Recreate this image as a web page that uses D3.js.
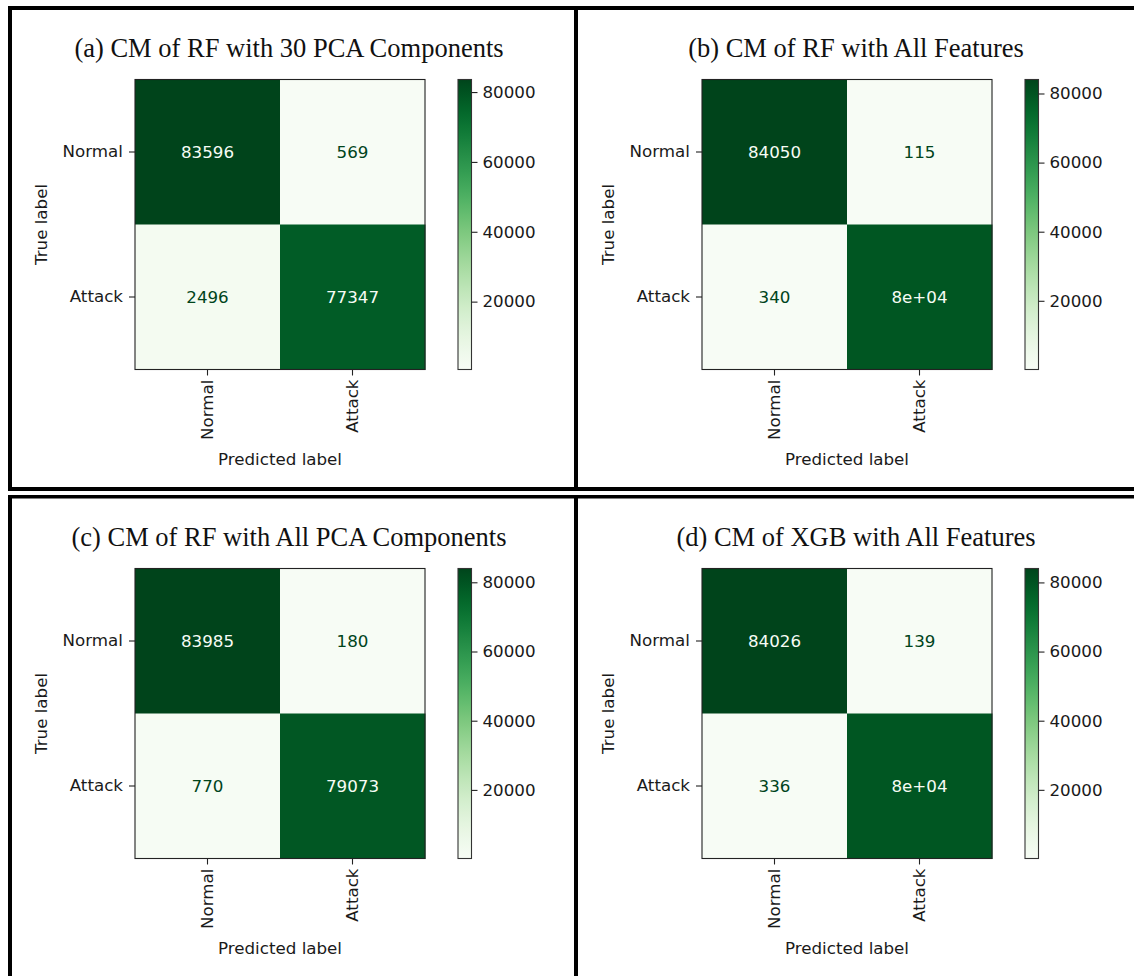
<!DOCTYPE html>
<html>
<head>
<meta charset="utf-8">
<script src="https://cdn.jsdelivr.net/npm/d3@7"></script>
<style>
  html, body { margin: 0; padding: 0; background: #fff; }
  svg { display: block; }
</style>
</head>
<body>
<svg id="chart" width="1134" height="976"></svg>
<script>
// ---- Data ----
const panelTitles = [
  "(a) CM of RF with 30 PCA Components",
  "(b) CM of RF with All Features",
  "(c) CM of RF with All PCA Components",
  "(d) CM of XGB with All Features"
];
const classLabels = ["Normal", "Attack"];
const cmA = [[83596, 569], [2496, 77347]];
const cmB = [[84050, 115], [340, 79503]];
const cmC = [[83985, 180], [770, 79073]];
const cmD = [[84026, 139], [336, 79507]];
const colorbarTicks = [20000, 40000, 60000, 80000];
const xAxisTitle = "Predicted label";
const yAxisTitle = "True label";

const matrices = [cmA, cmB, cmC, cmD];

// ---- Layout ----
const svg = d3.select("#chart");
const W = 1134, H = 976;
const sansFont = "'DejaVu Sans', sans-serif";
const serifFont = "'Liberation Serif', 'Times New Roman', serif";
const fs = 16.7;
const textColor = "#1a1a1a";

const panelOffsets = [[0, 0], [567, 0], [0, 489], [567, 489]];
const mat = { x0: 135, x1: 425, y0: 79.5, y1: 369.5 };
const cbar = { x0: 458, x1: 471.5 };

// python-like ".2g" formatting, sklearn's choice between ".2g" and "d"
function pyG2(v) {
  let s = v.toPrecision(2);
  if (s.includes("e")) {
    let [m, e] = s.split("e");
    if (m.includes(".")) m = m.replace(/\.?0+$/, "");
    const sign = e[0] === "-" ? "-" : "+";
    const digits = e.replace(/^[+-]/, "").padStart(2, "0");
    return m + "e" + sign + digits;
  }
  if (s.includes(".")) s = s.replace(/\.?0+$/, "");
  return s;
}
function cmLabel(v) {
  const g = pyG2(v);
  const d = String(v);
  return d.length < g.length ? d : g;
}

// gradient for colorbar
const defs = svg.append("defs");
const grad = defs.append("linearGradient")
  .attr("id", "greensGrad")
  .attr("x1", 0).attr("y1", 1).attr("x2", 0).attr("y2", 0);
d3.range(0, 1.0001, 0.02).forEach(t => {
  grad.append("stop").attr("offset", t).attr("stop-color", d3.interpolateGreens(t));
});

matrices.forEach((cm, pi) => {
  const [ox, oy] = panelOffsets[pi];
  const g = svg.append("g").attr("transform", `translate(${ox},${oy})`);
  const flat = cm.flat();
  const vmin = d3.min(flat), vmax = d3.max(flat);
  const color = d3.scaleSequential(d3.interpolateGreens).domain([vmin, vmax]);
  const thresh = (vmin + vmax) / 2;

  const x = d3.scaleBand().domain(classLabels).range([mat.x0, mat.x1]);
  const y = d3.scaleBand().domain(classLabels).range([mat.y0, mat.y1]);

  // title
  g.append("text")
    .attr("x", 289).attr("y", 57)
    .attr("text-anchor", "middle")
    .attr("font-family", serifFont)
    .attr("font-size", 26.5)
    .attr("fill", "#111")
    .text(panelTitles[pi]);

  // cells
  const cells = [];
  cm.forEach((row, i) => row.forEach((v, j) => cells.push({ i, j, v })));
  g.selectAll("rect.cell").data(cells).enter().append("rect")
    .attr("class", "cell")
    .attr("x", d => x(classLabels[d.j]))
    .attr("y", d => y(classLabels[d.i]))
    .attr("width", x.bandwidth() + 0.5)
    .attr("height", y.bandwidth() + 0.5)
    .attr("fill", d => color(d.v));

  g.selectAll("text.val").data(cells).enter().append("text")
    .attr("class", "val")
    .attr("x", d => x(classLabels[d.j]) + x.bandwidth() / 2)
    .attr("y", d => y(classLabels[d.i]) + y.bandwidth() / 2)
    .attr("text-anchor", "middle")
    .attr("dominant-baseline", "central")
    .attr("font-family", sansFont)
    .attr("font-size", fs)
    .attr("fill", d => d.v < thresh ? d3.interpolateGreens(1) : d3.interpolateGreens(0))
    .text(d => cmLabel(d.v));

  // frame
  g.append("rect")
    .attr("x", mat.x0).attr("y", mat.y0)
    .attr("width", mat.x1 - mat.x0).attr("height", mat.y1 - mat.y0)
    .attr("fill", "none").attr("stroke", "#222").attr("stroke-width", 1.1);

  // y axis
  const yAxis = d3.axisLeft(y).tickSize(6).tickPadding(6);
  const ya = g.append("g").attr("transform", `translate(${mat.x0},0)`).call(yAxis);
  ya.select(".domain").remove();
  ya.selectAll("line").attr("stroke", "#222").attr("stroke-width", 1.1);
  ya.selectAll("text").attr("font-family", sansFont).attr("font-size", fs).attr("fill", textColor);

  // x axis
  const xAxis = d3.axisBottom(x).tickSize(6).tickPadding(6);
  const xa = g.append("g").attr("transform", `translate(0,${mat.y1})`).call(xAxis);
  xa.select(".domain").remove();
  xa.selectAll("line").attr("stroke", "#222").attr("stroke-width", 1.1);
  xa.selectAll("text")
    .attr("font-family", sansFont).attr("font-size", fs).attr("fill", textColor)
    .attr("transform", "rotate(-90)")
    .attr("x", -10).attr("y", 0).attr("dy", "0.35em")
    .attr("text-anchor", "end");

  // axis titles
  g.append("text")
    .attr("x", (mat.x0 + mat.x1) / 2).attr("y", 465)
    .attr("text-anchor", "middle")
    .attr("font-family", sansFont).attr("font-size", fs).attr("fill", textColor)
    .text(xAxisTitle);
  g.append("text")
    .attr("transform", `translate(47,${(mat.y0 + mat.y1) / 2}) rotate(-90)`)
    .attr("text-anchor", "middle")
    .attr("font-family", sansFont).attr("font-size", fs).attr("fill", textColor)
    .text(yAxisTitle);

  // colorbar
  g.append("rect")
    .attr("x", cbar.x0).attr("y", mat.y0)
    .attr("width", cbar.x1 - cbar.x0).attr("height", mat.y1 - mat.y0)
    .attr("fill", "url(#greensGrad)")
    .attr("stroke", "#333").attr("stroke-width", 1.1);
  const cy = d3.scaleLinear().domain([vmin, vmax]).range([mat.y1, mat.y0]);
  const cAxis = d3.axisRight(cy).tickValues(colorbarTicks).tickSize(6).tickPadding(5)
    .tickFormat(d3.format("d"));
  const ca = g.append("g").attr("transform", `translate(${cbar.x1},0)`).call(cAxis);
  ca.select(".domain").remove();
  ca.selectAll("line").attr("stroke", "#222").attr("stroke-width", 1.1);
  ca.selectAll("text").attr("font-family", sansFont).attr("font-size", fs).attr("fill", textColor);
});

// ---- Panel borders ----
const borders = svg.append("g").attr("stroke", "#000").attr("fill", "none");
// top row box
borders.append("line").attr("x1", 8).attr("x2", W).attr("y1", 8).attr("y2", 8).attr("stroke-width", 4);
borders.append("line").attr("x1", 8).attr("x2", W).attr("y1", 489).attr("y2", 489).attr("stroke-width", 4);
borders.append("line").attr("x1", 10).attr("x2", 10).attr("y1", 6).attr("y2", 491).attr("stroke-width", 4);
borders.append("line").attr("x1", 576).attr("x2", 576).attr("y1", 6).attr("y2", 491).attr("stroke-width", 4);
// bottom row box
borders.append("line").attr("x1", 8).attr("x2", W).attr("y1", 496.7).attr("y2", 496.7).attr("stroke-width", 3.6);
borders.append("line").attr("x1", 10).attr("x2", 10).attr("y1", 495).attr("y2", H).attr("stroke-width", 4);
borders.append("line").attr("x1", 576).attr("x2", 576).attr("y1", 495).attr("y2", H).attr("stroke-width", 4);
</script>
</body>
</html>
